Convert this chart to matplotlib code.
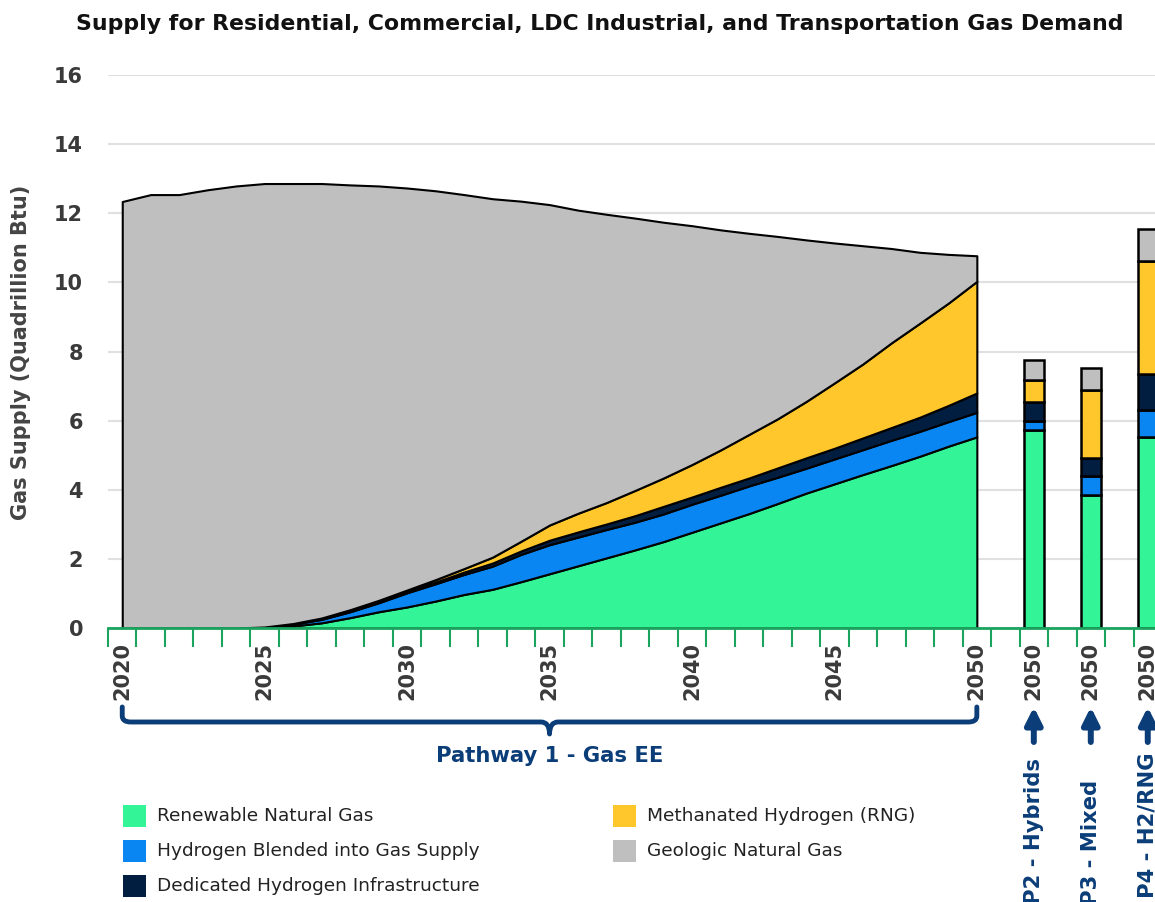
import matplotlib
matplotlib.use("Agg")
import matplotlib.pyplot as plt
import matplotlib.transforms as mtransforms
from matplotlib.path import Path
from matplotlib.patches import PathPatch, Rectangle
import numpy as np

plt.rcParams['font.family'] = ['DejaVu Sans']

# Pathway 1 - Gas EE, yearly stacked supply (quadrillion Btu)
years = list(range(2020, 2051))
rng = [0, 0, 0, 0, 0, 0.01, 0.06, 0.15, 0.30, 0.47, 0.61, 0.78, 0.97, 1.12, 1.34, 1.57,
       1.80, 2.03, 2.26, 2.50, 2.77, 3.04, 3.31, 3.60, 3.90, 4.17, 4.44, 4.70, 4.97, 5.26, 5.53]
h2_blend = [0, 0, 0, 0, 0, 0.01, 0.05, 0.10, 0.17, 0.26, 0.41, 0.50, 0.58, 0.67, 0.79, 0.84,
            0.83, 0.82, 0.80, 0.80, 0.81, 0.80, 0.80, 0.76, 0.72, 0.72, 0.72, 0.73, 0.72, 0.71, 0.71]
h2_dedicated = [0, 0, 0, 0, 0, 0.01, 0.02, 0.03, 0.04, 0.04, 0.04, 0.05, 0.07, 0.09, 0.10, 0.13,
                0.15, 0.16, 0.19, 0.22, 0.21, 0.23, 0.23, 0.27, 0.30, 0.31, 0.34, 0.37, 0.41, 0.47, 0.56]
methanated = [0, 0, 0, 0, 0, 0, 0, 0.01, 0.02, 0.03, 0.04, 0.07, 0.10, 0.17, 0.28, 0.44,
              0.54, 0.62, 0.73, 0.82, 0.94, 1.08, 1.26, 1.42, 1.63, 1.89, 2.14, 2.45, 2.72, 2.96, 3.23]
geologic = [12.34, 12.54, 12.54, 12.68, 12.79, 12.83, 12.73, 12.57, 12.29, 11.99, 11.63, 11.25,
            10.82, 10.37, 9.84, 9.27, 8.77, 8.34, 7.88, 7.40, 6.91, 6.37, 5.82, 5.28, 4.68, 4.05,
            3.42, 2.73, 2.05, 1.41, 0.74]

# other pathways, 2050 only
bar_labels = ["P2 - Hybrids", "P3 - Mixed", "P4 - H2/RNG"]
bar_rng = [5.72, 3.86, 5.53]
bar_blend = [0.26, 0.54, 0.79]
bar_dedicated = [0.55, 0.53, 1.03]
bar_methanated = [0.64, 1.95, 3.26]
bar_geologic = [0.57, 0.63, 0.94]

series_names = ["Renewable Natural Gas", "Hydrogen Blended into Gas Supply",
                "Dedicated Hydrogen Infrastructure", "Methanated Hydrogen (RNG)",
                "Geologic Natural Gas"]
colors = ["#33F598", "#0A86F2", "#011E41", "#FFC72C", "#BEBFBE"]
navy = "#0B3D78"
green_axis = "#1BA45E"
txt_gray = "#3A3A3A"

W, H = 1155, 902
fig = plt.figure(figsize=(W / 100, H / 100), dpi=100)
ax = fig.add_axes([108 / W, (H - 628) / H, (1162 - 108) / W, (628 - 75) / H])

def fy(ypx):
    return 1 - ypx / H

x_area = np.arange(len(years))
ax.stackplot(x_area, rng, h2_blend, h2_dedicated, methanated, geologic,
             colors=colors, edgecolor="black", linewidth=1.5, zorder=2)

x_bar = (len(years) - 1) + 2 * np.arange(1, len(bar_labels) + 1)
bottom = np.zeros(len(bar_labels))
for vals, c in zip([bar_rng, bar_blend, bar_dedicated, bar_methanated, bar_geologic], colors):
    ax.bar(x_bar, vals, 0.72, bottom=bottom, color=c, edgecolor="black", linewidth=1.8, zorder=2)
    bottom += np.array(vals)

ax.set_xlim(-0.5, x_bar[-1] + 0.5)
ax.set_ylim(0, 16)
ax.set_yticks(np.arange(0, 17, 2))
ax.yaxis.grid(True, color="#E0E0E0", linewidth=1.5)
ax.set_axisbelow(True)

tick_pos = [x for x, y in zip(x_area, years) if y % 5 == 0] + list(x_bar)
tick_lab = [str(y) for y in years if y % 5 == 0] + ["2050"] * len(bar_labels)
ax.set_xticks(tick_pos)
ax.set_xticklabels(tick_lab, rotation=90)
ax.set_xticks(np.arange(-0.5, x_bar[-1] + 1, 1), minor=True)
ax.tick_params(axis="x", which="major", length=0, pad=10, labelsize=15, labelcolor=txt_gray)
ax.tick_params(axis="x", which="minor", length=14, width=1.5, color=green_axis)
ax.tick_params(axis="y", length=0, pad=18, labelsize=15, labelcolor=txt_gray)
for lab in ax.get_xticklabels() + ax.get_yticklabels():
    lab.set_fontweight("bold")

for s in ["top", "right", "left"]:
    ax.spines[s].set_visible(False)
ax.spines["bottom"].set_color(green_axis)
ax.spines["bottom"].set_linewidth(2)
ax.spines["bottom"].set_zorder(3)

fig.text(600 / W, fy(24), "Supply for Residential, Commercial, LDC Industrial, and Transportation Gas Demand",
         ha="center", va="center", fontsize=15.8, fontweight="bold", color="#111111")
fig.text(21 / W, fy(352), "Gas Supply (Quadrillion Btu)", rotation=90, ha="center", va="center",
         fontsize=15, fontweight="bold", color="#444444")

blend = mtransforms.blended_transform_factory(ax.transData, fig.transFigure)

# curly brace under pathway 1
x0, x1 = x_area[0], x_area[-1]
xm = (x0 + x1) / 2
verts = [(x0, fy(707)), (x0, fy(716)), (x0, fy(722)), (x0 + 0.3, fy(722)),
         (xm - 0.3, fy(722)), (xm, fy(722)), (xm, fy(734)),
         (xm, fy(722)), (xm + 0.3, fy(722)),
         (x1 - 0.3, fy(722)), (x1, fy(722)), (x1, fy(716)), (x1, fy(707))]
codes = [Path.MOVETO, Path.LINETO, Path.CURVE3, Path.CURVE3,
         Path.LINETO, Path.CURVE3, Path.CURVE3,
         Path.CURVE3, Path.CURVE3,
         Path.LINETO, Path.CURVE3, Path.CURVE3, Path.LINETO]
brace = PathPatch(Path(verts, codes), transform=blend, facecolor="none", edgecolor=navy,
                  linewidth=3.5, capstyle="round", joinstyle="round", clip_on=False)
ax.add_patch(brace)
ax.text(xm, fy(756), "Pathway 1 - Gas EE", transform=blend, ha="center", va="center",
        fontsize=15.2, fontweight="bold", color=navy)

# arrows and labels for the other pathways
label_tops = [758, 780, 753]
for xb, lab, top in zip(x_bar, bar_labels, label_tops):
    ax.annotate("", xy=(xb, fy(707)), xycoords=blend, xytext=(xb, fy(742)), textcoords=blend,
                arrowprops=dict(arrowstyle="-|>,head_width=0.5,head_length=1.0", lw=4.3,
                                color=navy, shrinkA=0, shrinkB=0))
    ax.text(xb, fy(top), lab, transform=blend, rotation=90, ha="center", va="top",
            fontsize=15.2, fontweight="bold", color=navy)

# legend
leg_pos = [(123, 816), (123, 851), (123, 886), (613, 816), (613, 851)]
for (lx, ly), name, c in zip(leg_pos, series_names, colors):
    fig.patches.append(Rectangle((lx / W, fy(ly + 11)), 23 / W, 22 / H, transform=fig.transFigure,
                                 facecolor=c, edgecolor="none"))
    fig.text((lx + 34) / W, fy(ly), name, ha="left", va="center", fontsize=13.3, color="#222222")

fig.savefig("out.png", dpi=100)
